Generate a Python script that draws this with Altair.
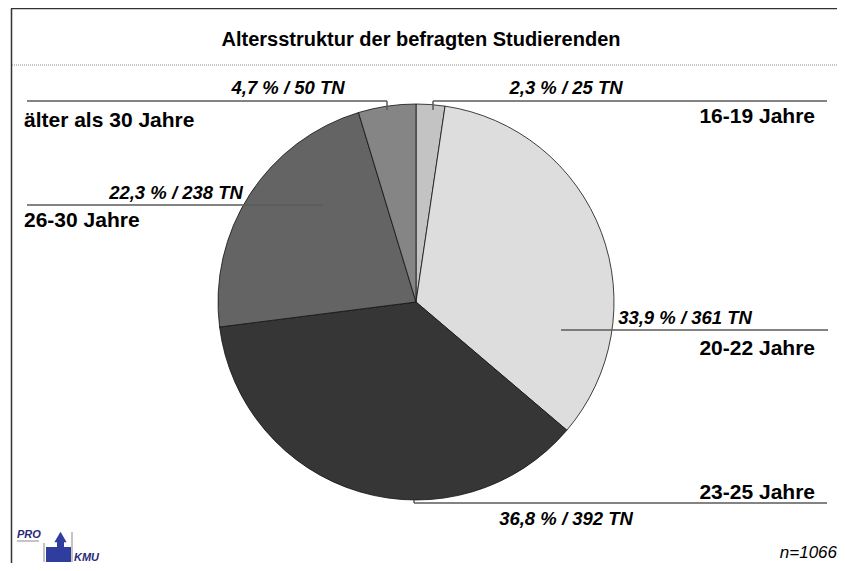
import altair as alt
import pandas as pd

W, H = 829, 555
OFF = 8  # page margin

# ---- data ----
groups = ["16-19 Jahre", "20-22 Jahre", "23-25 Jahre", "26-30 Jahre", "älter als 30 Jahre"]
pct = [2.3, 33.9, 36.8, 22.3, 4.7]
counts = [25, 361, 392, 238, 50]
colors = ["#c3c3c3", "#dddddd", "#363636", "#646464", "#858585"]
n_total = 1066
title_text = "Altersstruktur der befragten Studierenden"

# ---- annotation layout (page pixels) ----
cat_x = [815, 815, 815, 24, 24]
cat_y = [117, 349, 493, 221, 121]
cat_align = ["right", "right", "right", "left", "left"]
pct_x = [566, 685, 566, 176, 288]
pct_y = [88, 318, 519, 193, 88]
seg_x = [433, 433, 561, 414, 414, 27, 27, 387]
seg_x2 = [827, 433, 828, 827, 414, 323, 387, 387]
seg_y = [101, 101, 330, 503, 500, 205, 101, 101]
seg_y2 = [101, 110, 330, 503, 503, 205, 101, 110]

def fmt(p, c):
    return f"{p:.1f}".replace(".", ",") + f" % / {c} TN"

pie_df = pd.DataFrame({"group": groups, "count": counts, "order": list(range(len(groups)))})
cat_df = pd.DataFrame({"label": groups, "x": [v - OFF for v in cat_x],
                       "y": [v - OFF for v in cat_y], "align": cat_align})
pct_df = pd.DataFrame({"label": [fmt(p, c) for p, c in zip(pct, counts)],
                       "x": [v - OFF for v in pct_x], "y": [v - OFF for v in pct_y]})
seg_df = pd.DataFrame({"x": [v - OFF for v in seg_x], "x2": [v - OFF for v in seg_x2],
                       "y": [v - OFF for v in seg_y], "y2": [v - OFF for v in seg_y2]})

xs = alt.Scale(domain=[0, W], range=[0, W], nice=False, zero=False)
ys = alt.Scale(domain=[0, H], range=[0, H], nice=False, zero=False)
FONT = "Liberation Sans"

def X(f="x"):
    return alt.X(f"{f}:Q", scale=xs, axis=None)

def Y(f="y"):
    return alt.Y(f"{f}:Q", scale=ys, axis=None)

pie = alt.Chart(pie_df).mark_arc(radius=198, stroke="#111111", strokeWidth=0.8).encode(
    theta=alt.Theta("count:Q", stack=True),
    color=alt.Color("group:N", scale=alt.Scale(domain=groups, range=colors), legend=None),
    order=alt.Order("order:Q"),
    x=alt.value(416 - OFF),
    y=alt.value(302 - OFF),
)

segs = alt.Chart(seg_df).mark_rule(color="#5a5a5a", strokeWidth=1.5).encode(
    x=X(), x2="x2:Q", y=Y(), y2="y2:Q"
)

cat_right = alt.Chart(cat_df).transform_filter(alt.datum.align == "right").mark_text(
    align="right", baseline="middle", font=FONT, fontSize=21, fontWeight="bold", color="#000000"
).encode(x=X(), y=Y(), text="label:N")

cat_left = alt.Chart(cat_df).transform_filter(alt.datum.align == "left").mark_text(
    align="left", baseline="middle", font=FONT, fontSize=21, fontWeight="bold", color="#000000"
).encode(x=X(), y=Y(), text="label:N")

pct_txt = alt.Chart(pct_df).mark_text(
    align="center", baseline="middle", font=FONT, fontSize=18.5, fontWeight="bold",
    fontStyle="italic", color="#000000"
).encode(x=X(), y=Y(), text="label:N")

# title, frame, footer
title_df = pd.DataFrame({"label": [title_text], "x": [421 - OFF], "y": [40 - OFF]})
title_mark = alt.Chart(title_df).mark_text(
    align="center", baseline="middle", font=FONT, fontSize=20, fontWeight="bold", color="#000000"
).encode(x=X(), y=Y(), text="label:N")

frame_df = pd.DataFrame({"x": [11.5 - OFF, 11 - OFF], "x2": [11.5 - OFF, W],
                         "y": [8.5 - OFF, 8.5 - OFF], "y2": [H, 8.5 - OFF]})
frame = alt.Chart(frame_df).mark_rule(color="#333333", strokeWidth=1.5).encode(
    x=X(), x2="x2:Q", y=Y(), y2="y2:Q"
)

dot_df = pd.DataFrame({"x": [12 - OFF], "x2": [W], "y": [65 - OFF], "y2": [65 - OFF]})
dotted = alt.Chart(dot_df).mark_rule(color="#888888", strokeWidth=1, strokeDash=[1, 1]).encode(
    x=X(), x2="x2:Q", y=Y(), y2="y2:Q"
)

n_df = pd.DataFrame({"label": [f"n={n_total}"], "x": [W], "y": [553 - OFF]})
n_mark = alt.Chart(n_df).mark_text(
    align="right", baseline="middle", font=FONT, fontSize=17, fontStyle="italic", color="#000000"
).encode(x=X(), y=Y(), text="label:N")

# logo
logo_txt_df = pd.DataFrame({"label": ["PRO", "KMU"], "x": [17 - OFF, 74 - OFF], "y": [535 - OFF, 558 - OFF]})
logo_txt = alt.Chart(logo_txt_df).mark_text(
    align="left", baseline="middle", font=FONT, fontSize=11, fontWeight="bold",
    fontStyle="italic", color="#2a2a7a"
).encode(x=X(), y=Y(), text="label:N")
logo_line_df = pd.DataFrame({"x": [17 - OFF, 44 - OFF, 72 - OFF], "x2": [39 - OFF, 44 - OFF, 72 - OFF],
                             "y": [541 - OFF, 543 - OFF, 532 - OFF], "y2": [541 - OFF, 562 - OFF, 562 - OFF]})
logo_lines = alt.Chart(logo_line_df).mark_rule(color="#8a8a8a", strokeWidth=1).encode(
    x=X(), x2="x2:Q", y=Y(), y2="y2:Q"
)
logo_rect_df = pd.DataFrame({"x": [46 - OFF, 57 - OFF], "x2": [71 - OFF, 64 - OFF],
                             "y": [547 - OFF, 539 - OFF], "y2": [562 - OFF, 550 - OFF]})
logo_rect = alt.Chart(logo_rect_df).mark_rect(color="#2f3e9e").encode(
    x=X(), x2="x2:Q", y=Y(), y2="y2:Q"
)
logo_tri_df = pd.DataFrame({"x": [60.5 - OFF], "y": [537 - OFF]})
logo_tri = alt.Chart(logo_tri_df).mark_point(
    shape="triangle-up", filled=True, size=150, color="#2f3e9e", opacity=1
).encode(x=X(), y=Y())

chart = alt.layer(
    pie, segs, cat_right, cat_left, pct_txt, title_mark, frame, dotted, n_mark,
    logo_lines, logo_rect, logo_tri, logo_txt
).properties(
    width=W, height=H, padding=0, background="#ffffff",
    autosize=alt.AutoSizeParams(type="none")
).configure_view(stroke=None)

chart.save("out.html", embed_options={"renderer": "svg", "actions": False})
